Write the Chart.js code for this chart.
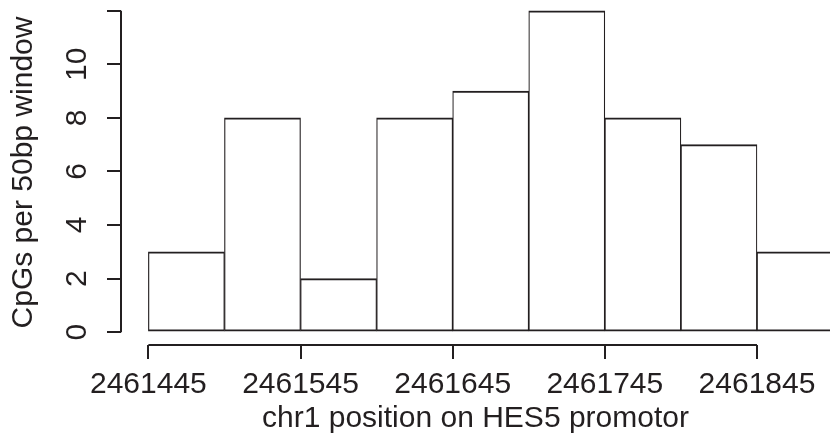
<!DOCTYPE html>
<html>
<head>
<meta charset="utf-8">
<script src="https://cdn.jsdelivr.net/npm/chart.js@4/dist/chart.umd.min.js"></script>
<style>
  html, body { margin: 0; padding: 0; background: #fff; }
  #wrap { width: 830px; height: 447px; }
</style>
</head>
<body>
<div id="wrap"><canvas id="hist"></canvas></div>
<script>
// bins of 50bp, starting positions on chr1
const binStarts = [2461445, 2461495, 2461545, 2461595, 2461645, 2461695, 2461745, 2461795, 2461845];
const binWidth = 50;
const counts = [3, 8, 2, 8, 9, 12, 8, 7, 3];
const xTicks = [2461445, 2461545, 2461645, 2461745, 2461845];
const yTicks = [0, 2, 4, 6, 8, 10, 12];

const ink = "#231f20";
const font = "'Liberation Sans', Arial, Helvetica, sans-serif";

let points = binStarts.map((s, i) => ({ x: s + binWidth / 2, y: counts[i] }));

// R style axes: line only from first to last tick
const axisLines = {
  id: "axisLines",
  afterDraw(chart) {
    let ctx = chart.ctx;
    let xs = chart.scales.x, ys = chart.scales.y;
    ctx.save();
    ctx.strokeStyle = ink;
    ctx.lineWidth = 2;
    ctx.beginPath();
    ctx.moveTo(xs.left, ys.getPixelForValue(yTicks[0]));
    ctx.lineTo(xs.left, ys.getPixelForValue(yTicks[yTicks.length - 1]));
    ctx.moveTo(xs.getPixelForValue(xTicks[0]), ys.bottom);
    ctx.lineTo(xs.getPixelForValue(xTicks[xTicks.length - 1]), ys.bottom);
    ctx.stroke();
    ctx.restore();
  }
};

new Chart(document.getElementById("hist"), {
  type: "bar",
  data: {
    datasets: [{
      data: points,
      backgroundColor: "#ffffff",
      borderColor: ink,
      borderWidth: { top: 2, bottom: 2, left: 1.2, right: 1.2 },
      borderSkipped: false,
      barPercentage: 1,
      categoryPercentage: 1
    }]
  },
  options: {
    responsive: true,
    maintainAspectRatio: false,
    animation: false,
    layout: { padding: 0 },
    plugins: { legend: { display: false }, tooltip: { enabled: false } },
    scales: {
      x: {
        type: "linear",
        offset: false,
        min: 2461427,
        max: 2461893,
        afterBuildTicks: s => { s.ticks = xTicks.map(v => ({ value: v })); },
        afterFit: s => { s.height = 102; s.paddingLeft = 0; s.paddingRight = 0; },
        grid: { offset: false, drawOnChartArea: false, drawTicks: true, tickLength: 14, color: ink, lineWidth: 2 },
        border: { display: false },
        ticks: {
          color: ink, padding: 8, maxRotation: 0, autoSkip: false,
          font: { family: font, size: 30 },
          callback: v => String(v)
        },
        title: {
          display: true,
          text: "chr1 position on HES5 promotor",
          color: ink,
          font: { family: font, size: 30 },
          padding: { top: 0, bottom: 10 }
        }
      },
      y: {
        min: -0.48,
        max: 12.4,
        afterBuildTicks: s => { s.ticks = yTicks.map(v => ({ value: v })); },
        afterFit: s => { s.width = 121; s.paddingTop = 0; s.paddingBottom = 0; },
        grid: { drawOnChartArea: false, drawTicks: true, tickLength: 14, color: ink, lineWidth: 2 },
        border: { display: false },
        ticks: {
          color: ink, padding: 13, minRotation: 90, maxRotation: 90, crossAlign: "center",
          font: { family: font, size: 30 },
          callback: v => (v === 12 ? "" : String(v))
        },
        title: {
          display: true,
          text: "CpGs per 50bp window",
          color: ink,
          font: { family: font, size: 30 },
          padding: { top: 6, bottom: 0 }
        }
      }
    }
  },
  plugins: [axisLines]
});
</script>
</body>
</html>
